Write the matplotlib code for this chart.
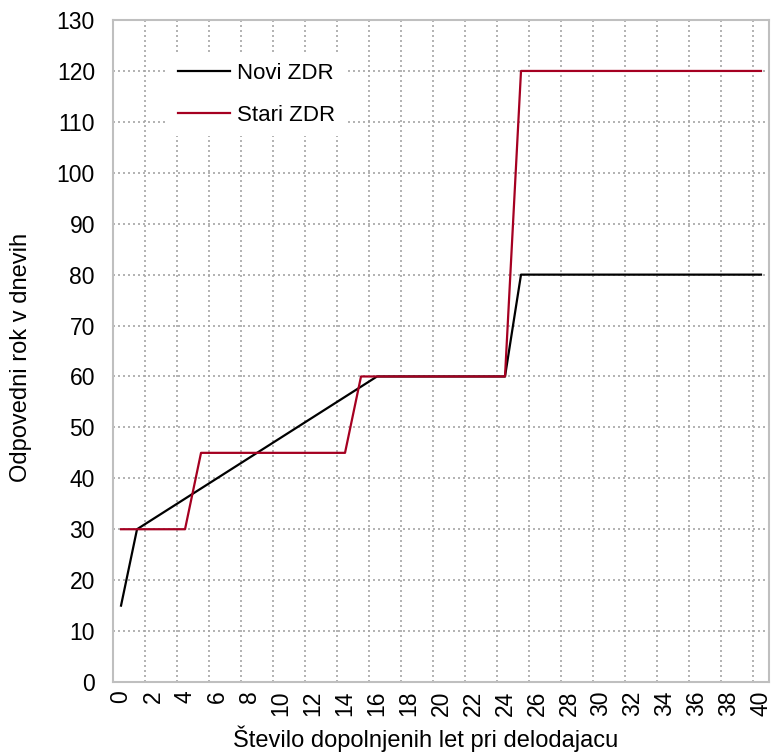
"""Odpovedni rok: novi vs. stari ZDR (Excel-style line chart)."""

import matplotlib

matplotlib.use("Agg")
import matplotlib.pyplot as plt

plt.rcParams.update({"font.family": ["Liberation Sans", "DejaVu Sans"], "font.size": 16})

# --- data --------------------------------------------------------------------
years = list(range(0, 41))
novi_zdr = [15, 30, 32, 34, 36, 38, 40, 42, 44, 46, 48, 50, 52, 54, 56, 58, 60,
            60, 60, 60, 60, 60, 60, 60, 60,
            80, 80, 80, 80, 80, 80, 80, 80, 80, 80, 80, 80, 80, 80, 80, 80]
stari_zdr = [30, 30, 30, 30, 30,
             45, 45, 45, 45, 45, 45, 45, 45, 45, 45,
             60, 60, 60, 60, 60, 60, 60, 60, 60, 60,
             120, 120, 120, 120, 120, 120, 120, 120, 120, 120, 120, 120, 120, 120, 120, 120]
x_ticks = list(range(0, 41, 2))
y_ticks = list(range(0, 131, 10))

RED = "#A50021"
GRID = "#a6a6a6"
FRAME = "#bfbfbf"


def main() -> None:
    fig = plt.figure(figsize=(7.71, 7.53), dpi=100)
    ax = fig.add_axes([0.1466, 0.0943, 0.8508, 0.8791])

    ax.plot(years, novi_zdr, color="black", lw=1.6, label="Novi ZDR", zorder=3)
    ax.plot(years, stari_zdr, color=RED, lw=1.6, label="Stari ZDR", zorder=3)

    ax.set_xlim(-0.5, 40.5)
    ax.set_ylim(0, 130)
    ax.set_xticks(x_ticks)
    ax.set_xticklabels([str(v) for v in x_ticks], rotation=90, fontsize=16.5)
    ax.set_yticks(y_ticks)
    ax.set_yticklabels([str(v) for v in y_ticks], fontsize=16.5)

    # Excel category axis: gridlines sit on slot boundaries, every 2nd category
    for xb in [v + 1.5 for v in x_ticks[:-1]]:
        ax.axvline(xb, color=GRID, lw=1.2, ls=(0, (1.2, 1.8)), zorder=1)
    for yv in y_ticks[1:-1]:
        ax.axhline(yv, color=GRID, lw=1.2, ls=(0, (1.2, 1.8)), zorder=1)

    for sp in ax.spines.values():
        sp.set_color(FRAME)
        sp.set_linewidth(1.5)
    ax.tick_params(axis="both", length=0)
    ax.tick_params(axis="y", pad=13)
    ax.tick_params(axis="x", pad=6)

    ax.set_ylabel("Odpovedni rok v dnevih", fontsize=17)
    ax.yaxis.set_label_coords(-0.1235, 0.49)
    ax.set_xlabel("Število dopolnjenih let pri delodajacu", fontsize=17)
    ax.xaxis.set_label_coords(0.477, -0.066)

    leg = ax.legend(
        loc="upper left",
        bbox_to_anchor=(0.0838, 0.950),
        frameon=True,
        fancybox=False,
        edgecolor="none",
        facecolor="white",
        framealpha=1.0,
        handlelength=2.34,
        handletextpad=0.3,
        labelspacing=0.95,
        borderpad=0.45,
        borderaxespad=0,
    )
    leg.set_zorder(4)

    fig.savefig("out.png", dpi=100)
    plt.close(fig)


if __name__ == "__main__":
    main()
